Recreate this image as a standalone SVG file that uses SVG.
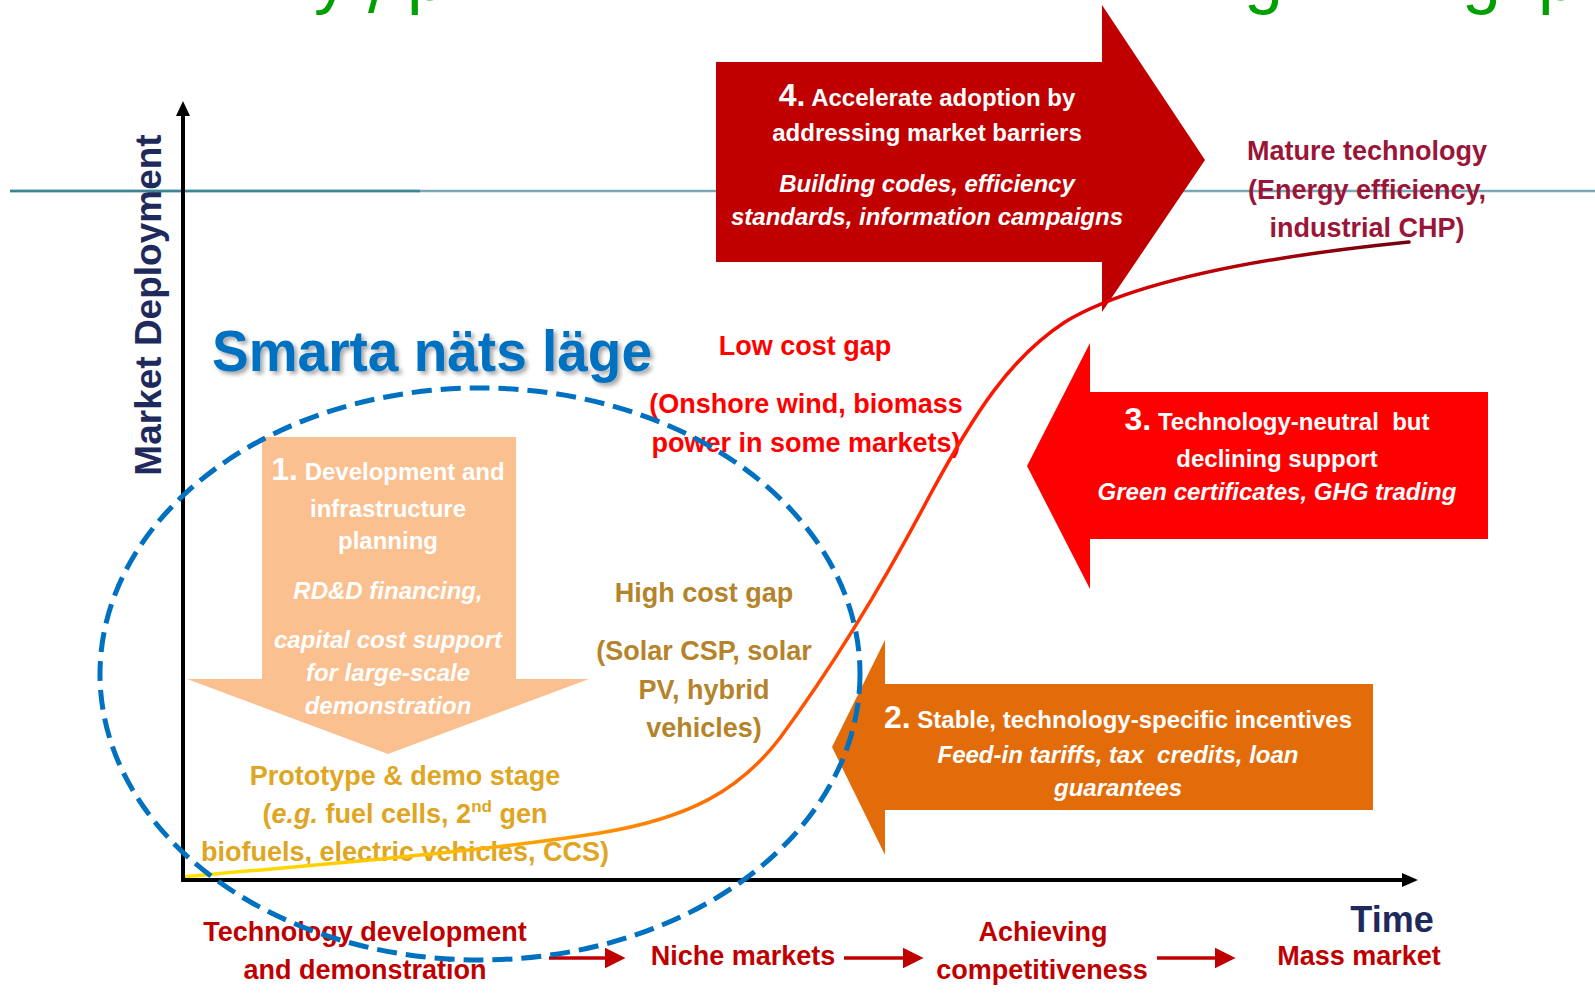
<svg xmlns="http://www.w3.org/2000/svg" width="1595" height="995" viewBox="0 0 1595 995">
<defs>
<style>
text{font-family:"Liberation Sans",Arial,sans-serif;font-weight:bold}
.w{fill:#ffffff}
.it{font-style:italic}
.num{font-size:32px}
.t24{font-size:24px}
.lbl{font-size:27px}
.red{fill:#ff0000}
.gold{fill:#b5832a}
.proto{fill:#dea622}
.mat{fill:#9a1538}
.stg{fill:#c00000}
.navy{fill:#1f2a5c}
.ttl{fill:#00a000;font-size:70px;font-weight:normal}
</style>
<linearGradient id="curveGrad" gradientUnits="userSpaceOnUse" x1="183" y1="0" x2="1409" y2="0">
<stop offset="0" stop-color="#ffe400"/>
<stop offset="0.2" stop-color="#ffc000"/>
<stop offset="0.34" stop-color="#ff9000"/>
<stop offset="0.5" stop-color="#ff5500"/>
<stop offset="0.65" stop-color="#ff1a00"/>
<stop offset="0.76" stop-color="#dd0000"/>
<stop offset="1" stop-color="#700010"/>
</linearGradient>
<filter id="shadow" x="-5%" y="-20%" width="110%" height="150%">
<feDropShadow dx="3" dy="3" stdDeviation="2" flood-color="#000000" flood-opacity="0.35"/>
</filter>
<marker id="stageArrow" markerWidth="6" markerHeight="6" refX="5" refY="3" orient="auto" markerUnits="strokeWidth">
<path d="M0,0 L6,3 L0,6 Z" fill="#c00000"/>
</marker>
</defs>

<rect width="1595" height="995" fill="#ffffff"/>

<g id="title-fragments">
<text class="ttl" x="314" y="0">y</text>
<text class="ttl" x="368" y="12">/</text>
<text class="ttl" x="407" y="0">p</text>
<text class="ttl" x="1244" y="0">g</text>
<text class="ttl" x="1462" y="0">g</text>
<text class="ttl" x="1538" y="0">p</text>
</g>

<g id="rule-line">
<line x1="10" y1="191" x2="1595" y2="191" stroke="#7aa9b6" stroke-width="2.5"/>
<line x1="10" y1="191" x2="420" y2="191" stroke="#3d8496" stroke-width="2.5"/>
</g>

<g id="arrow4">
<path d="M716,62 L1102,62 L1102,5 L1205,160 L1102,312 L1102,262 L716,262 Z" fill="#c00000"/>
<text class="w t24" x="927" y="106" text-anchor="middle"><tspan class="num">4.</tspan> Accelerate adoption by</text>
<text class="w t24" x="927" y="141" text-anchor="middle">addressing market barriers</text>
<text class="w t24 it" x="927" y="192" text-anchor="middle">Building codes, efficiency</text>
<text class="w t24 it" x="927" y="225" text-anchor="middle">standards, information campaigns</text>
</g>

<g id="arrow3">
<path d="M1488,392 L1090,392 L1090,343 L1027,466 L1090,589 L1090,539 L1488,539 Z" fill="#ff0000"/>
<text class="w t24" x="1277" y="430" text-anchor="middle"><tspan class="num">3.</tspan> Technology-neutral&#160; but</text>
<text class="w t24" x="1277" y="467" text-anchor="middle">declining support</text>
<text class="w t24 it" x="1277" y="500" text-anchor="middle">Green certificates, GHG trading</text>
</g>

<g id="arrow2">
<path d="M1373,684 L885,684 L885,640 L832,747 L885,855 L885,810 L1373,810 Z" fill="#e36c0a"/>
<text class="w t24" x="1118" y="728" text-anchor="middle"><tspan class="num">2.</tspan> Stable, technology-specific incentives</text>
<text class="w t24 it" x="1118" y="763" text-anchor="middle">Feed-in tariffs, tax&#160; credits, loan</text>
<text class="w t24 it" x="1118" y="796" text-anchor="middle">guarantees</text>
</g>

<g id="arrow1">
<path d="M262,437 L516,437 L516,679 L589,679 L388,754 L187,679 L262,679 Z" fill="#fac090"/>
<text class="w t24" x="388" y="480" text-anchor="middle"><tspan class="num">1.</tspan> Development and</text>
<text class="w t24" x="388" y="517" text-anchor="middle">infrastructure</text>
<text class="w t24" x="388" y="549" text-anchor="middle">planning</text>
<text class="w t24 it" x="388" y="599" text-anchor="middle">RD&amp;D financing,</text>
<text class="w t24 it" x="388" y="648" text-anchor="middle">capital cost support</text>
<text class="w t24 it" x="388" y="681" text-anchor="middle">for large-scale</text>
<text class="w t24 it" x="388" y="714" text-anchor="middle">demonstration</text>
</g>

<g id="smarta-label">
<text x="212" y="371" font-size="58" fill="#0070c0" textLength="440" lengthAdjust="spacingAndGlyphs" filter="url(#shadow)">Smarta näts läge</text>
</g>

<g id="low-cost-gap">
<text class="lbl red" x="805" y="355" font-size="26" text-anchor="middle">Low cost gap</text>
<text class="lbl red" x="806" y="413" text-anchor="middle">(Onshore wind, biomass</text>
<text class="lbl red" x="806" y="452" text-anchor="middle">power in some markets)</text>
</g>

<g id="high-cost-gap">
<text class="lbl gold" x="704" y="602" text-anchor="middle">High cost gap</text>
<text class="lbl gold" x="704" y="660" text-anchor="middle">(Solar CSP, solar</text>
<text class="lbl gold" x="704" y="699" text-anchor="middle">PV, hybrid</text>
<text class="lbl gold" x="704" y="737" text-anchor="middle">vehicles)</text>
</g>

<g id="prototype-stage">
<text class="lbl proto" x="405" y="785" text-anchor="middle">Prototype &amp; demo stage</text>
<text class="lbl proto" x="405" y="823" text-anchor="middle">(<tspan class="it">e.g.</tspan> fuel cells, 2<tspan font-size="17" dy="-11">nd</tspan><tspan dy="11"> gen</tspan></text>
<text class="lbl proto" x="405" y="861" text-anchor="middle">biofuels, electric vehicles, CCS)</text>
</g>

<g id="mature-technology">
<text class="lbl mat" x="1367" y="160" text-anchor="middle">Mature technology</text>
<text class="lbl mat" x="1367" y="199" text-anchor="middle">(Energy efficiency,</text>
<text class="lbl mat" x="1367" y="237" text-anchor="middle">industrial CHP)</text>
</g>

<g id="curve">
<path d="M183,877 C300,866 480,852 600,833 C690,818 740,790 780,738 C830,670 880,590 930,495 C975,412 1010,358 1065,322 C1130,283 1250,258 1409,242" fill="none" stroke="url(#curveGrad)" stroke-width="3.5" stroke-linecap="round"/>
</g>

<g id="axes">
<line x1="183" y1="882" x2="183" y2="112" stroke="#000000" stroke-width="4"/>
<path d="M183,101 L190,116 L176,116 Z" fill="#000000"/>
<line x1="181" y1="880" x2="1405" y2="880" stroke="#000000" stroke-width="4"/>
<path d="M1418,880 L1402,873 L1402,887 Z" fill="#000000"/>
<text class="navy" x="161" y="305" font-size="37" text-anchor="middle" transform="rotate(-90 161 305)">Market Deployment</text>
<text class="navy" x="1392" y="932" font-size="36" text-anchor="middle">Time</text>
</g>

<g id="stage-labels">
<text class="lbl stg" x="365" y="941" text-anchor="middle">Technology development</text>
<text class="lbl stg" x="365" y="979" text-anchor="middle">and demonstration</text>
<text class="lbl stg" x="743" y="965" text-anchor="middle">Niche markets</text>
<text class="lbl stg" x="1043" y="941" text-anchor="middle">Achieving</text>
<text class="lbl stg" x="1042" y="979" text-anchor="middle">competitiveness</text>
<text class="lbl stg" x="1359" y="965" text-anchor="middle">Mass market</text>
</g>

<g id="connectors">
<line x1="549" y1="958" x2="622" y2="958" stroke="#c00000" stroke-width="3.5" marker-end="url(#stageArrow)"/>
<line x1="844" y1="958" x2="920" y2="958" stroke="#c00000" stroke-width="3.5" marker-end="url(#stageArrow)"/>
<line x1="1157" y1="958" x2="1232" y2="958" stroke="#c00000" stroke-width="3.5" marker-end="url(#stageArrow)"/>
</g>

<g id="smart-grid-ellipse">
<ellipse cx="480" cy="674" rx="380" ry="286" fill="none" stroke="#0070c0" stroke-width="5" stroke-dasharray="20 9"/>
</g>
</svg>
